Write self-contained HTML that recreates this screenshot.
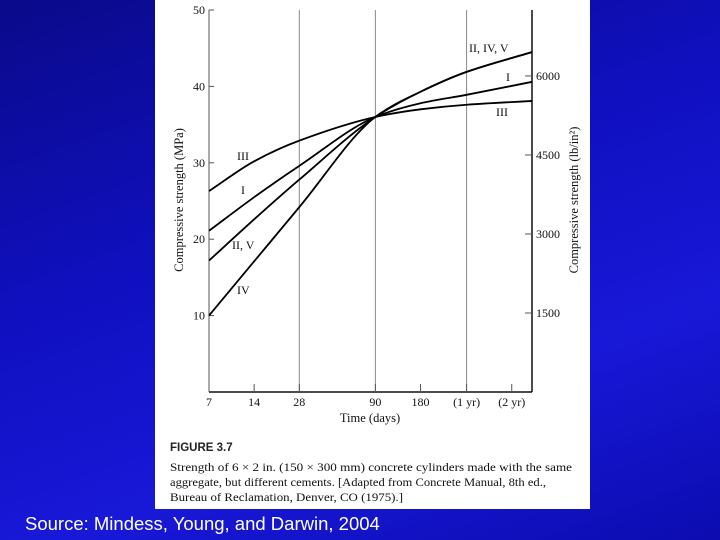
<!DOCTYPE html>
<html><head><meta charset="utf-8"><style>
html,body{margin:0;padding:0}
body{width:720px;height:540px;overflow:hidden;position:relative;
background:linear-gradient(160deg,#0a0a8a 0%,#1010c0 40%,#1818d8 70%,#0c0cb0 100%);font-family:"Liberation Sans",sans-serif}
#panel{position:absolute;left:155px;top:0;width:435px;height:509px;background:#fff}
#src{position:absolute;left:25px;top:513px;color:#fff;font-size:18.5px;white-space:nowrap}
</style></head><body>
<div id="panel">
<svg id="chart" width="435" height="509" viewBox="155 0 435 509" style="position:absolute;left:0;top:0"></svg>
</div>
<div id="src">Source: Mindess, Young, and Darwin, 2004</div>
<script>
const days = [7, 14, 28, 90, 180, 365, 1000];
const seriesNames = ["III", "I", "II, V", "IV"];
const sIII = [26.3, 30.2, 32.9, 36, 37.0, 37.6, 38.1];
const sI = [21.1, 25.5, 29.6, 36, 37.8, 38.9, 40.6];
const sIIV = [17.2, 22.6, 27.8, 36, 39.3, 41.9, 44.5];
const sIV = [10, 17.1, 24.2, 36, 39.3, 41.9, 44.5];
const yTicks = [10, 20, 30, 40, 50];
const psiTicks = [1500, 3000, 4500, 6000];
const xTicks = [7, 14, 28, 90, 180, 365, 730];
const xTickLabels = ["7", "14", "28", "90", "180", "(1 yr)", "(2 yr)"];
const gridDays = [28, 90, 365];

const NS="http://www.w3.org/2000/svg";
const svg=document.getElementById('chart');
const X0=209,X1=532,Y0=392,Y1=10;
function xs(d){return X0+(Math.log10(d)-Math.log10(7))*150;}
function ys(v){return Y0-(v/50)*(Y0-Y1);}
function mk(tag,attrs,parent){const e=document.createElementNS(NS,tag);for(const k in attrs)e.setAttribute(k,attrs[k]);(parent||svg).appendChild(e);return e;}
function txt(s,x,y,attrs){const e=mk('text',Object.assign({x:x,y:y,'font-family':'"Liberation Serif",serif','font-size':12,fill:'#111'},attrs||{}));e.textContent=s;return e;}

gridDays.forEach(d=>{const l=mk('line',{x1:xs(d),x2:xs(d),y1:Y1,y2:Y0,stroke:'#888','stroke-width':1});

});
const la=mk('line',{x1:X0,x2:X0,y1:Y1,y2:Y0,stroke:'#555','stroke-width':1});

const ra=mk('line',{x1:X1,x2:X1,y1:Y1,y2:Y0,stroke:'#111','stroke-width':1.5});

const ba=mk('line',{x1:X0,x2:X1,y1:Y0,y2:Y0,stroke:'#111','stroke-width':1.5});


yTicks.forEach(v=>{mk('line',{x1:X0,x2:X0+5,y1:ys(v),y2:ys(v),stroke:'#555'});
const t=txt(String(v),X0-4,ys(v)+4,{'text-anchor':'end'});
});
psiTicks.forEach(p=>{const v=p/145.04;mk('line',{x1:X1-7,x2:X1,y1:ys(v),y2:ys(v),stroke:'#555'});
const t=txt(String(p),X1+4,ys(v)+4,{});
});
xTicks.forEach((d,i)=>{mk('line',{x1:xs(d),x2:xs(d),y1:Y0,y2:Y0-8,stroke:'#555'});
const t=txt(xTickLabels[i],xs(d),Y0+14,{'text-anchor':'middle'});
});

function pathFor(vals){
 const p=days.map((d,i)=>[xs(d),ys(vals[i])]);const n=p.length;
 const dl=[],m=[];
 for(let i=0;i<n-1;i++)dl.push((p[i+1][1]-p[i][1])/(p[i+1][0]-p[i][0]));
 m[0]=dl[0];m[n-1]=dl[n-2];
 for(let i=1;i<n-1;i++){m[i]=(dl[i-1]*dl[i]<=0)?0:2/(1/dl[i-1]+1/dl[i]);}
 let s='M'+p[0][0]+','+p[0][1];
 for(let i=0;i<n-1;i++){const h=(p[i+1][0]-p[i][0])/3;
  s+=' C'+(p[i][0]+h)+','+(p[i][1]+m[i]*h)+' '+(p[i+1][0]-h)+','+(p[i+1][1]-m[i+1]*h)+' '+p[i+1][0]+','+p[i+1][1];}
 return s;}
[sIII,sI,sIIV,sIV].forEach((s,i)=>{const e=mk('path',{d:pathFor(s),fill:'none',stroke:'#000','stroke-width':1.8});

});

[["III",237,160],["I",241,194],["II, V",232,249],["IV",237,294],["II, IV, V",469,52],["I",506,81],["III",496,116]].forEach(a=>{
const t=txt(a[0],a[1],a[2],{});});

const yt=txt('Compressive strength (MPa)',0,0,{transform:'translate(183,200) rotate(-90)','text-anchor':'middle','font-size':12.5});

const rt=txt('Compressive strength (lb/in²)',0,0,{transform:'translate(578,200) rotate(-90)','text-anchor':'middle','font-size':12.5});

const xt=txt('Time (days)',370,422,{'text-anchor':'middle','font-size':12.5});


const fg=txt('FIGURE 3.7',170,451,{'font-family':'"Liberation Sans",sans-serif','font-size':11.5,'font-weight':'bold','fill':'#222'});

["Strength of 6 × 2 in. (150 × 300 mm) concrete cylinders made with the same",
 "aggregate, but different cements. [Adapted from Concrete Manual, 8th ed.,",
 "Bureau of Reclamation, Denver, CO (1975).]"].forEach((s,i)=>{
const t=txt(s,170,471+i*15,{'font-size':12,textLength:i==0?402:(i==1?376:233),lengthAdjust:'spacingAndGlyphs'});
});
</script>
</body></html>
